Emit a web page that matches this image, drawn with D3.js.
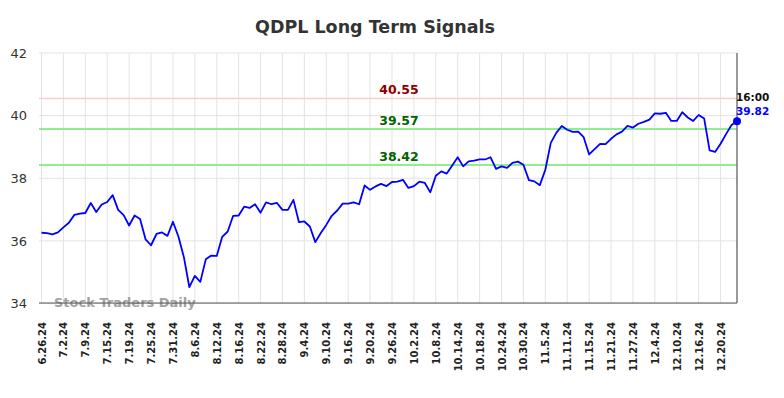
<!DOCTYPE html>
<html>
<head>
<meta charset="utf-8">
<script src="https://cdn.jsdelivr.net/npm/d3@7/dist/d3.min.js"></script>
<style>
  body { margin: 0; background: #fff; }
  svg { font-family: "DejaVu Sans", sans-serif; }
</style>
</head>
<body>
<svg id="chart"></svg>
<script>
// trading days shown on the x axis
var dates = [
  "6.26.24","6.27.24","6.28.24",
  "7.1.24","7.2.24","7.3.24","7.5.24","7.8.24","7.9.24","7.10.24","7.11.24","7.12.24","7.15.24","7.16.24","7.17.24","7.18.24","7.19.24","7.22.24","7.23.24","7.24.24","7.25.24","7.26.24","7.29.24","7.30.24","7.31.24",
  "8.1.24","8.2.24","8.5.24","8.6.24","8.7.24","8.8.24","8.9.24","8.12.24","8.13.24","8.14.24","8.15.24","8.16.24","8.19.24","8.20.24","8.21.24","8.22.24","8.23.24","8.26.24","8.27.24","8.28.24","8.29.24","8.30.24",
  "9.3.24","9.4.24","9.5.24","9.6.24","9.9.24","9.10.24","9.11.24","9.12.24","9.13.24","9.16.24","9.17.24","9.18.24","9.19.24","9.20.24","9.23.24","9.24.24","9.25.24","9.26.24","9.27.24","9.30.24",
  "10.1.24","10.2.24","10.3.24","10.4.24","10.7.24","10.8.24","10.9.24","10.10.24","10.11.24","10.14.24","10.15.24","10.16.24","10.17.24","10.18.24","10.21.24","10.22.24","10.23.24","10.24.24","10.25.24","10.28.24","10.29.24","10.30.24","10.31.24",
  "11.1.24","11.4.24","11.5.24","11.6.24","11.7.24","11.8.24","11.11.24","11.12.24","11.13.24","11.14.24","11.15.24","11.18.24","11.19.24","11.20.24","11.21.24","11.22.24","11.25.24","11.26.24","11.27.24","11.29.24",
  "12.2.24","12.3.24","12.4.24","12.5.24","12.6.24","12.9.24","12.10.24","12.11.24","12.12.24","12.13.24","12.16.24","12.17.24","12.18.24","12.19.24","12.20.24","12.23.24","12.24.24","12.26.24"
];

var prices = [
  36.26,36.25,36.21,36.27,36.43,36.58,36.83,36.87,36.89,37.21,
  36.92,37.16,37.24,37.46,36.99,36.82,36.49,36.81,36.70,36.05,
  35.86,36.22,36.27,36.16,36.61,36.14,35.48,34.52,34.88,34.69,
  35.41,35.53,35.52,36.13,36.30,36.80,36.81,37.09,37.05,37.17,
  36.90,37.23,37.17,37.21,36.99,36.99,37.31,36.60,36.62,36.46,
  35.96,36.25,36.51,36.80,36.97,37.19,37.19,37.23,37.17,37.77,
  37.63,37.74,37.82,37.75,37.88,37.89,37.95,37.69,37.75,37.89,
  37.85,37.55,38.08,38.22,38.15,38.41,38.67,38.38,38.54,38.56,
  38.60,38.60,38.67,38.30,38.38,38.33,38.49,38.53,38.43,37.94,
  37.90,37.78,38.27,39.13,39.45,39.67,39.55,39.48,39.49,39.31,
  38.76,38.93,39.10,39.09,39.26,39.40,39.49,39.67,39.62,39.74,
  39.80,39.87,40.07,40.06,40.09,39.83,39.83,40.11,39.94,39.83,
  40.02,39.91,38.89,38.84,39.10,39.41,39.70,39.82
];

var tickLabels = [
  "6.26.24","7.2.24","7.9.24","7.15.24","7.19.24","7.25.24","7.31.24","8.6.24",
  "8.12.24","8.16.24","8.22.24","8.28.24","9.4.24","9.10.24","9.16.24","9.20.24",
  "9.26.24","10.2.24","10.8.24","10.14.24","10.18.24","10.24.24","10.30.24","11.5.24",
  "11.11.24","11.15.24","11.21.24","11.27.24","12.4.24","12.10.24","12.16.24","12.20.24"
];

var yTicks = [34, 36, 38, 40, 42];

var signalValues = [40.55, 39.57, 38.42];
var signalLabels = ["40.55", "39.57", "38.42"];
var signalKinds  = ["red", "green", "green"];

var lastTime = "16:00";
var lastLabel = "39.82";

var width  = 784;
var height = 398;
var margin = {
  top: 53,
  bottom: 95,
  left: 41,
  right: 47
};

var svg = d3.select('#chart')
            .attr('width', width)
            .attr('height', height);

var xScale = d3.scalePoint()
               .domain(dates)
               .range([margin.left + 0.5, width - margin.right]);

var yScale = d3.scaleLinear()
               .domain([34, 42])
               .range([height - margin.bottom + 0.5, margin.top]);

// title
svg.append('text')
   .attr('x', 375)
   .attr('y', 33)
   .attr('text-anchor', 'middle')
   .style('font-size', '17.5px')
   .style('font-weight', 'bold')
   .style('fill', '#333')
   .text('QDPL Long Term Signals');

// grid
svg.append('g')
   .selectAll('line')
   .data(tickLabels)
   .enter().append('line')
   .attr('x1', function(d){ return xScale(d); })
   .attr('x2', function(d){ return xScale(d); })
   .attr('y1', margin.top)
   .attr('y2', height - margin.bottom)
   .attr('stroke', '#e3e3e3')
   .attr('stroke-width', 1);

svg.append('g')
   .selectAll('line')
   .data(yTicks)
   .enter().append('line')
   .attr('x1', margin.left - 2)
   .attr('x2', width - margin.right)
   .attr('y1', function(d){ return yScale(d); })
   .attr('y2', function(d){ return yScale(d); })
   .attr('stroke', '#e3e3e3')
   .attr('stroke-width', 1);

// y labels
var yAxis = d3.axisLeft(yScale).tickValues(yTicks).tickSize(0).tickPadding(0);
var y_axis = svg.append('g')
   .attr('transform', 'translate(' + (margin.left - 14) + ',0)')
   .call(yAxis);
y_axis.select('.domain').remove();
y_axis.selectAll('text')
   .style('font-size', '13px')
   .style('fill', '#333')
   .style('font-family', '"DejaVu Sans", sans-serif');

// x labels
var xAxis = d3.axisBottom(xScale).tickValues(tickLabels).tickSize(0).tickPadding(0);
var x_axis = svg.append('g')
   .attr('transform', 'translate(0,' + (height - margin.bottom) + ')')
   .call(xAxis);
x_axis.select('.domain').remove();
x_axis.selectAll('text')
   .attr('transform', 'rotate(-90)')
   .attr('text-anchor', 'end')
   .attr('x', -19)
   .attr('y', 0)
   .attr('dy', '0.35em')
   .style('font-size', '10px')
   .style('font-weight', 'bold')
   .style('fill', '#222')
   .style('font-family', '"DejaVu Sans", sans-serif');

// signal lines
svg.append('g')
   .selectAll('line')
   .data(signalValues)
   .enter().append('line')
   .attr('x1', margin.left - 2)
   .attr('x2', width - margin.right)
   .attr('y1', function(d){ return yScale(d); })
   .attr('y2', function(d){ return yScale(d); })
   .attr('stroke', function(d, i){ return signalKinds[i] == 'red' ? '#ffcccc' : '#90ee90'; })
   .attr('stroke-width', function(d, i){ return signalKinds[i] == 'red' ? 1.5 : 2; });

svg.append('g')
   .selectAll('text')
   .data(signalValues)
   .enter().append('text')
   .attr('x', 399)
   .attr('y', function(d){ return yScale(d) - 4; })
   .attr('text-anchor', 'middle')
   .style('font-size', '12.5px')
   .style('font-weight', 'bold')
   .style('fill', function(d, i){ return signalKinds[i] == 'red' ? '#8b0000' : '#006400'; })
   .text(function(d, i){ return signalLabels[i]; });

// watermark
svg.append('text')
   .attr('x', 54)
   .attr('y', 307)
   .style('font-size', '13px')
   .style('font-weight', 'bold')
   .style('fill', '#999')
   .style('opacity', 0.9)
   .text('Stock Traders Daily');

// axes lines
svg.append('line')
   .attr('x1', margin.left - 2)
   .attr('x2', width - margin.right)
   .attr('y1', height - margin.bottom)
   .attr('y2', height - margin.bottom)
   .attr('stroke', '#555')
   .attr('stroke-width', 1.2);

svg.append('line')
   .attr('x1', width - margin.right)
   .attr('x2', width - margin.right)
   .attr('y1', margin.top)
   .attr('y2', height - margin.bottom)
   .attr('stroke', '#777')
   .attr('stroke-width', 1.5);

// price line
var line = d3.line()
             .x(function(d, i){ return xScale(dates[i]); })
             .y(function(d){ return yScale(d); });

svg.append('path')
   .datum(prices)
   .attr('fill', 'none')
   .attr('stroke', '#0000ff')
   .attr('stroke-width', 1.8)
   .attr('stroke-linejoin', 'round')
   .attr('d', line);

var lastIndex = prices.length - 1;
var lastX = xScale(dates[lastIndex]);
var lastY = yScale(prices[lastIndex]);

svg.append('circle')
   .attr('cx', lastX)
   .attr('cy', lastY)
   .attr('r', 4)
   .attr('fill', '#0000ff');

svg.append('text')
   .attr('x', lastX - 1)
   .attr('y', lastY - 20)
   .style('font-size', '10.5px')
   .style('font-weight', 'bold')
   .style('fill', '#111')
   .text(lastTime);

svg.append('text')
   .attr('x', lastX - 1)
   .attr('y', lastY - 6)
   .style('font-size', '10.5px')
   .style('font-weight', 'bold')
   .style('fill', '#0000ff')
   .text(lastLabel);
</script>
</body>
</html>
